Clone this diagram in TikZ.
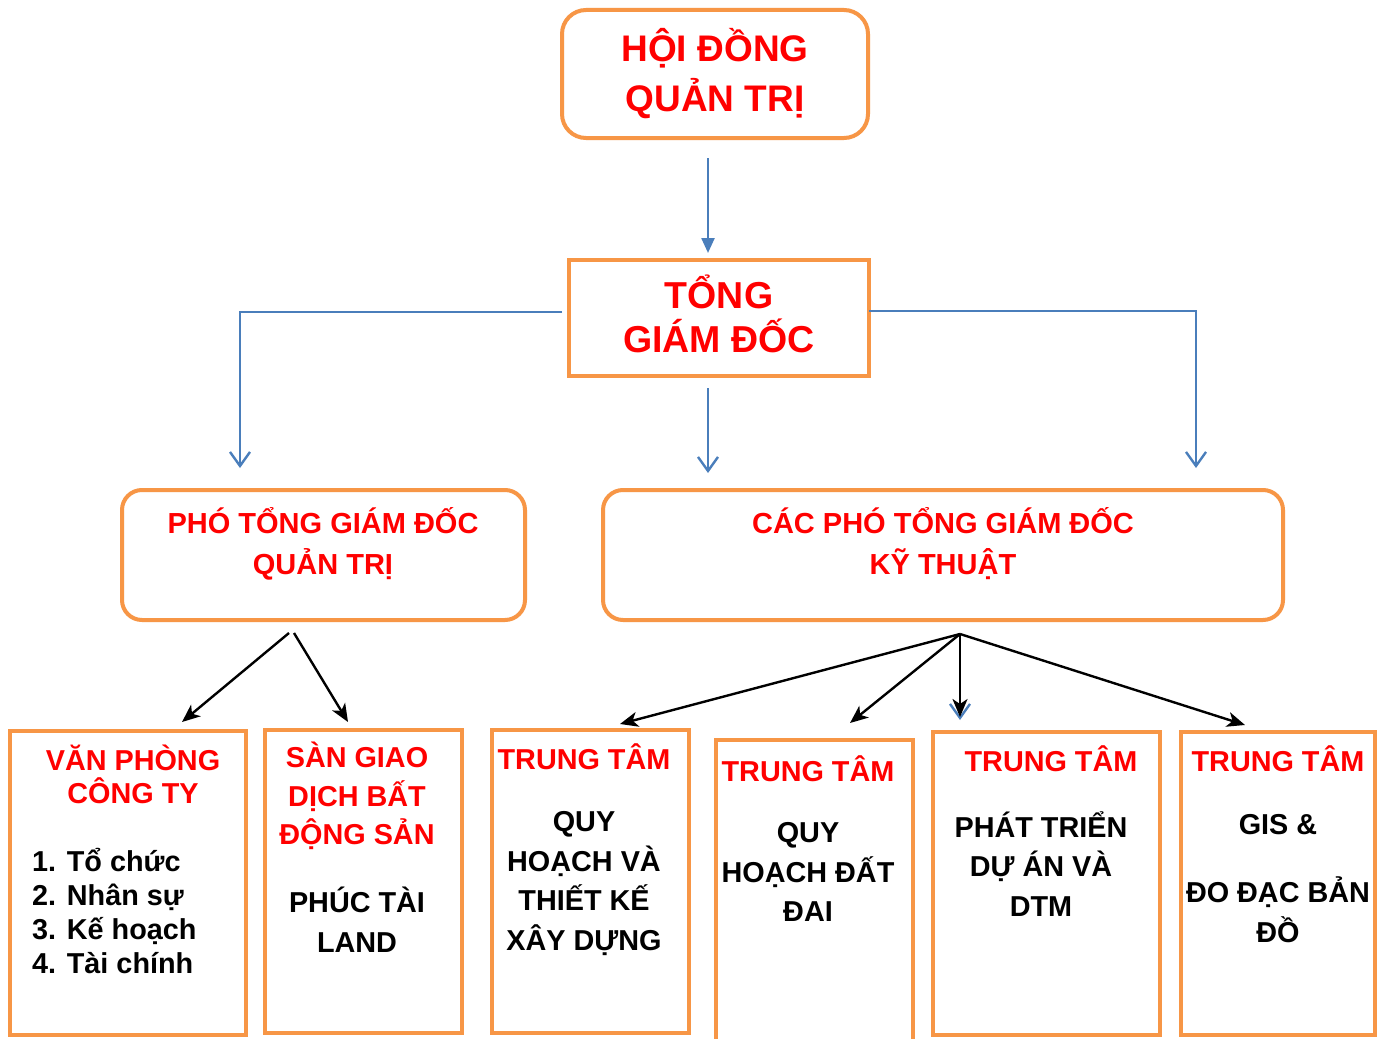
\documentclass[tikz,border=0pt]{standalone}
\usepackage{fontspec}
\setmainfont{Liberation Sans}
\usetikzlibrary{arrows.meta}
\definecolor{orng}{HTML}{F79646}
\definecolor{rd}{HTML}{FF0000}
\definecolor{blu}{HTML}{4A7EBB}
\begin{document}
\begin{tikzpicture}[x=1pt,y=-1pt,
  box/.style={draw=orng, line width=4pt, fill=white, inner sep=0pt, rectangle},
  rbox/.style={box, rounded corners=22pt},
  bigtxt/.style={text=rd, inner sep=0pt, align=center},
  redtxt/.style={text=rd, inner sep=0pt, align=center, font=\fontsize{28.8}{33}\selectfont\bfseries},
  blktxt/.style={text=black, inner sep=0pt, align=center},
  bluln/.style={draw=blu, line width=2.4pt},
  vhead/.style={-{Straight Barb[length=14pt,width=20pt,line width=2.4pt]}},
  blkarr/.style={draw=black, line width=2.4pt, -{Stealth[length=18pt,width=15pt,inset=5pt]}}
]
\useasboundingbox (0,0) rectangle (1383,1038);
\fill[white] (0,0) rectangle (1383,1038);

% boxes
\node[rbox, rounded corners=24pt, minimum width=306pt, minimum height=128pt] (hdqt) at (715,74) {};
\node[box, minimum width=300pt, minimum height=116pt] (tgd) at (719,318) {};
\node[rbox, rounded corners=20pt, minimum width=403pt, minimum height=130pt] (pqt) at (323.5,555) {};
\node[rbox, rounded corners=20pt, minimum width=680pt, minimum height=130pt] (pkt) at (943,555) {};
\node[box, minimum width=236pt, minimum height=304pt] (ba) at (128,883) {};
\node[box, minimum width=197pt, minimum height=303pt] (bb) at (363.5,881.5) {};
\node[box, minimum width=197pt, minimum height=303pt] (bc) at (590.5,881.5) {};
\node[box, minimum width=197pt, minimum height=310pt] (bd) at (814.5,895) {};
\node[box, minimum width=227pt, minimum height=303pt] (be) at (1046.5,883.5) {};
\node[box, minimum width=194pt, minimum height=303pt] (bf) at (1278,883.5) {};

% texts
\node[bigtxt, font=\fontsize{37}{50}\selectfont\bfseries] (t1) at (715,73.5) {HỘI ĐỒNG\\QUẢN TRỊ};
\node[bigtxt, font=\fontsize{37.5}{44}\selectfont\bfseries] (t2) at (719,313.5) {TỔNG\\GIÁM ĐỐC};
\node[redtxt, font=\fontsize{29}{41}\selectfont\bfseries] (t3) at (323,544) {PHÓ TỔNG GIÁM ĐỐC\\QUẢN TRỊ};
\node[redtxt, font=\fontsize{29}{41}\selectfont\bfseries] (t4) at (943,544) {CÁC PHÓ TỔNG GIÁM ĐỐC\\KỸ THUẬT};

\node[redtxt, font=\fontsize{28.8}{33}\selectfont\bfseries] (ta1) at (133,774.5) {VĂN PHÒNG\\CÔNG TY};
\node[blktxt, anchor=west, align=left, font=\fontsize{28.8}{33.7}\selectfont\bfseries] (ta2) at (32,911) {1. Tổ chức\\2. Nhân sự\\3. Kế hoạch\\4. Tài chính};

\node[redtxt, font=\fontsize{28.8}{38.5}\selectfont\bfseries] (tb1) at (357,796) {SÀN GIAO\\DỊCH BẤT\\ĐỘNG SẢN};
\node[blktxt, font=\fontsize{28.8}{40}\selectfont\bfseries] (tb2) at (357,920) {PHÚC TÀI\\LAND};

\node[redtxt] (tc1) at (584,756.5) {TRUNG TÂM};
\node[blktxt, font=\fontsize{28.8}{39.5}\selectfont\bfseries] (tc2) at (584,883.5) {QUY\\HOẠCH VÀ\\THIẾT KẾ\\XÂY DỰNG};

\node[redtxt] (td1) at (808,768.5) {TRUNG TÂM};
\node[blktxt, font=\fontsize{28.8}{39.5}\selectfont\bfseries] (td2) at (808,872) {QUY\\HOẠCH ĐẤT\\ĐAI};

\node[redtxt] (te1) at (1051,758.5) {TRUNG TÂM};
\node[blktxt, font=\fontsize{28.8}{39.5}\selectfont\bfseries] (te2) at (1041,864) {PHÁT TRIỂN\\DỰ ÁN VÀ\\DTM};

\node[redtxt] (tf1) at (1278,758.5) {TRUNG TÂM};
\node[blktxt, font=\fontsize{28.8}{40}\selectfont\bfseries] (tf2) at (1278,824.5) {GIS \&};
\node[blktxt, font=\fontsize{28.8}{40}\selectfont\bfseries] (tf3) at (1278,909.5) {ĐO ĐẠC BẢN\\ĐỒ};

% connector coordinates
\coordinate (a0) at (708,158);
\coordinate (a1) at (708,253);
\coordinate (l0) at (562,312);
\coordinate (l1) at (240,468);
\coordinate (r0) at (869,311);
\coordinate (r1) at (1196,468);
\coordinate (c0) at (708,388);
\coordinate (c1) at (708,473);
\coordinate (s0) at (289,633);
\coordinate (s0b) at (294,633);
\coordinate (sa) at (182,722);
\coordinate (sb) at (348,722);
\coordinate (k0) at (960,634);
\coordinate (kc) at (620,724);
\coordinate (kd) at (850,723);
\coordinate (ke) at (960,717);
\coordinate (kev) at (960,720);
\coordinate (kf) at (1245,725);

% blue connectors
\draw[bluln, -{Triangle[length=15pt,width=13pt]}] (a0) -- (a1);
\draw[bluln, vhead] (l0) -| (l1);
\draw[bluln, vhead] (r0) -| (r1);
\draw[bluln, vhead] (c0) -- (c1);

% black connectors
\draw[blkarr] (s0) -- (sa);
\draw[blkarr] (s0b) -- (sb);
\draw[blkarr] (k0) -- (kc);
\draw[blkarr] (k0) -- (kd);
\draw[bluln, vhead] (ke) -- (kev);
\draw[blkarr] (k0) -- (ke);
\draw[blkarr] (k0) -- (kf);
\end{tikzpicture}
\end{document}
